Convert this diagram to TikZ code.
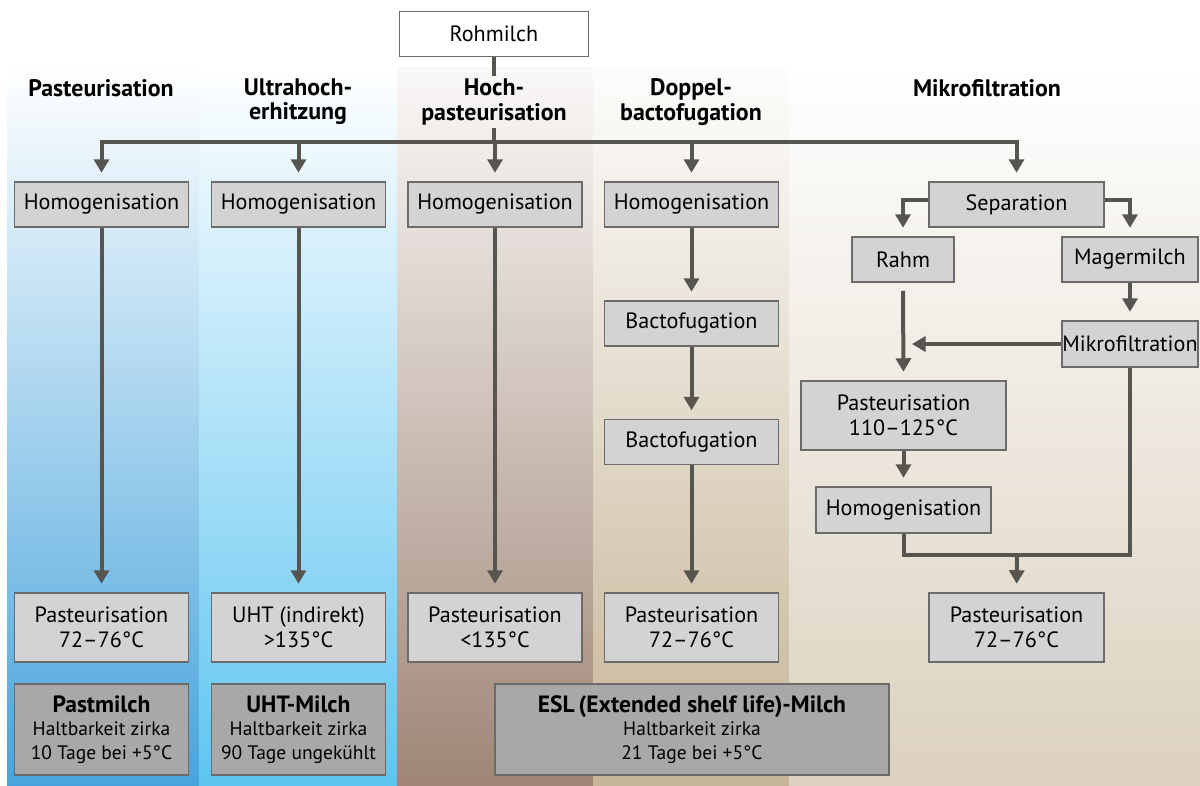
\documentclass[tikz,border=0pt]{standalone}
\usepackage{fontspec}
\setmainfont{PT Sans}
\usetikzlibrary{arrows.meta}

\definecolor{linegray}{HTML}{57554F}
\definecolor{boxgray}{HTML}{D3D3D3}
\definecolor{resgray}{HTML}{A8A8A8}
\definecolor{edgegray}{HTML}{6B6B6B}
\definecolor{pastblue}{HTML}{48A4DC}
\definecolor{uhtblue}{HTML}{5EC5F0}
\definecolor{hochbrown}{HTML}{9F8676}
\definecolor{doppeltan}{HTML}{C6B596}
\definecolor{mikrobeige}{HTML}{DCD1BF}

\tikzset{
  stepbox/.style={draw=edgegray, line width=0.03cm, fill=boxgray, inner sep=0pt,
    minimum width=3.48cm, minimum height=0.9cm, align=center,
    font=\fontsize{12.6}{14.2}\selectfont},
  resbox/.style={stepbox, fill=resgray, minimum height=1.82cm,
    font=\fontsize{13.4}{13.2}\selectfont},
  headtext/.style={align=center, inner sep=1.5pt,
    font=\fontsize{13.6}{13.8}\selectfont\bfseries},
  flow/.style={draw=linegray, line width=0.08cm},
  tipped/.style={flow, -{Triangle[width=0.3cm,length=0.27cm]}},
  arr/.style={tipped, shorten >=0.17cm}
}
\newcommand{\subsz}{\fontsize{11.1}{13.2}\selectfont}

\begin{document}
\begin{tikzpicture}[x=0.02cm, y=-0.02cm]
				\useasboundingbox (0,0) rectangle (1200,785);
				
				\shade[top color=white, bottom color=pastblue] (7,66) rectangle (199,785);
				\shade[top color=white, bottom color=uhtblue] (199,66) rectangle (397,785);
				\shade[top color=white!95!hochbrown, bottom color=hochbrown] (397,66) rectangle (593,785);
				\shade[top color=white!97!doppeltan, bottom color=doppeltan] (593,66) rectangle (789,785);
				\shade[top color=white, bottom color=mikrobeige] (789,66) rectangle (1200,785);
				
				\node[stepbox, fill=white, minimum width=3.78cm] (roh) at (494,34) {Rohmilch};
				
				\node[headtext] (hd1) at (101,88) {Pasteurisation};
				\node[headtext] (hd2) at (298,102) {Ultrahoch-\\erhitzung};
				\node[headtext] (hd3) at (494,102) {Hoch-\\pasteurisation};
				\node[headtext] (hd4) at (691,102) {Doppel-\\bactofugation};
				\node[headtext] (hd5) at (987,88) {Mikrofiltration};
				
				\node[stepbox] (hom1) at (101.5,204.5) {Homogenisation};
				\node[stepbox] (hom2) at (298.5,204.5) {Homogenisation};
				\node[stepbox] (hom3) at (495,204.5) {Homogenisation};
				\node[stepbox] (hom4) at (691.5,204.5) {Homogenisation};
				\node[stepbox] (bac1) at (691.5,323.5) {Bactofugation};
				\node[stepbox] (bac2) at (691.5,442) {Bactofugation};
				
				\node[stepbox, minimum width=3.5cm] (sep) at (1016.5,204.5) {Separation};
				\node[stepbox, minimum width=2.04cm] (rahm) at (903,259.5) {Rahm};
				\node[stepbox, minimum width=2.72cm] (mager) at (1130,259.5) {Magermilch};
				\node[stepbox, minimum width=2.72cm, minimum height=0.92cm] (mikro) at (1130,344) {Mikrofiltration};
				\node[stepbox, minimum width=4.1cm, minimum height=1.38cm] (pash) at (903.5,415.5) {Pasteurisation\\110–125°C};
				\node[stepbox, minimum width=3.5cm, minimum height=0.92cm] (homm) at (903.5,510) {Homogenisation};
				
				\node[stepbox, minimum height=1.38cm] (pas1) at (101.5,627.5) {Pasteurisation\\72–76°C};
				\node[stepbox, minimum height=1.38cm] (pas2) at (298.5,627.5) {UHT (indirekt)\\>135°C};
				\node[stepbox, minimum height=1.38cm] (pas3) at (495,627.5) {Pasteurisation\\<135°C};
				\node[stepbox, minimum height=1.38cm] (pas4) at (691.5,627.5) {Pasteurisation\\72–76°C};
				\node[stepbox, minimum width=3.5cm, minimum height=1.38cm] (pas5) at (1016.5,627.5) {Pasteurisation\\72–76°C};
				
				\node[resbox] (res1) at (101.5,729.5) {\textbf{Pastmilch}\\\subsz Haltbarkeit zirka\\\subsz 10 Tage bei +5°C};
				\node[resbox] (res2) at (298.5,729.5) {\textbf{UHT-Milch}\\\subsz Haltbarkeit zirka\\\subsz 90 Tage ungekühlt};
				\node[resbox, minimum width=7.88cm] (esl) at (692,729.5) {\textbf{ESL\,(Extended shelf life)-Milch}\\\subsz Haltbarkeit zirka\\\subsz 21 Tage bei +5°C};
				
				\coordinate (tjoin) at (494,142);
				\coordinate (rjoin) at (912,344);
				\coordinate (mjoin) at (1017,555);
				
				\draw[flow] (roh) -- (hd3);
				\draw[flow] (hd3) -- (tjoin);
				\draw[arr] (tjoin) -| (hom1.north);
				\draw[arr] (tjoin) -| (sep.north);
				\foreach \n in {hom2,hom3,hom4}
					\draw[arr] (\n.north |- tjoin) -- (\n.north);
				
				\draw[arr] (hom1) -- (pas1);
				\draw[arr] (hom2) -- (pas2);
				\draw[arr] (hom3) -- (pas3);
				\draw[arr] (hom4) -- (bac1);
				\draw[arr] (bac1) -- (bac2);
				\draw[arr] (bac2) -- (pas4);
				
				\draw[arr] ([yshift=0.1cm]sep.west) -| (rahm.north);
				\draw[arr] ([yshift=0.1cm]sep.east) -| (mager.north);
				\draw[arr] (mager) -- (mikro);
				\draw[arr] ([yshift=-0.16cm]rahm.south) -- (pash.north);
				\draw[tipped] (mikro.west) -- (rjoin);
				\draw[arr] (pash) -- (homm);
				\draw[flow] (homm.south) |- (mjoin) -| (mikro.south);
				\draw[arr] (mjoin) -- (pas5.north);
\end{tikzpicture}
\end{document}
